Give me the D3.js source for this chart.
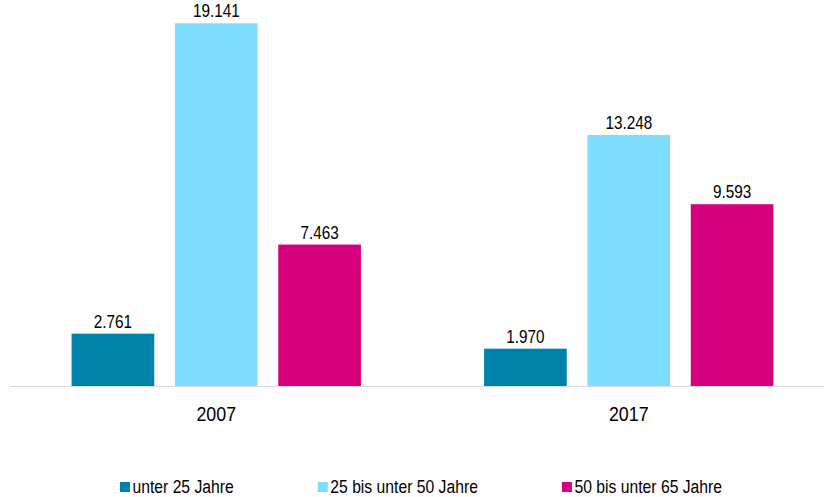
<!DOCTYPE html>
<meta charset="utf-8">
<style>
body { margin: 0; background: #fff; }
text { font-family: "Liberation Sans", Arial, sans-serif; fill: #000; }
</style>
<body>
<script src="https://cdn.jsdelivr.net/npm/d3@7"></script>
<script>

// data
var years = ["2007", "2017"];
var groups = ["unter 25 Jahre", "25 bis unter 50 Jahre", "50 bis unter 65 Jahre"];
var under25 = [2.761, 1.970];
var from25to50 = [19.141, 13.248];
var from50to65 = [7.463, 9.593];
var colors = ["#0083aa", "#7fdeff", "#d6007e"];

var series = [under25, from25to50, from50to65];
var squeeze = 0.85; // narrow-looking font

var width = 824, height = 497;
var base = 386;

var svg = d3.select("body").append("svg")
    .attr("width", width)
    .attr("height", height);

var x0 = d3.scaleBand().domain(years).range([10, 835]);
var x1 = d3.scaleBand().domain(groups).range([-155, 155])
    .paddingInner(0.2).paddingOuter(0.1);
var y = d3.scaleLinear().domain([0, 20]).range([base, 7]);
var z = d3.scaleOrdinal().domain(groups).range(colors);

function label(g, tx, ty, size, txt, anchor) {
  return g.append("text")
      .attr("transform", "translate(" + tx + "," + ty + ") scale(" + squeeze + ",1)")
      .attr("text-anchor", anchor || "middle")
      .style("font-size", size + "px")
      .text(txt);
}

// bars
var data = [];
years.forEach(function(yr, i) {
  groups.forEach(function(k, j) {
    data.push({year: yr, key: k, value: series[j][i]});
  });
});

var bars = svg.append("g");
bars.selectAll("rect")
  .data(data)
  .enter().append("rect")
    .attr("x", function(d) { return x0(d.year) + x0.bandwidth() / 2 + x1(d.key); })
    .attr("y", function(d) { return y(d.value); })
    .attr("width", x1.bandwidth())
    .attr("height", function(d) { return base - y(d.value); })
    .attr("fill", function(d) { return z(d.key); });

// value labels
data.forEach(function(d) {
  var cx = x0(d.year) + x0.bandwidth() / 2 + x1(d.key) + x1.bandwidth() / 2;
  label(svg, cx, y(d.value) - 6, 18, d3.format(".3f")(d.value));
});

// axis line
svg.append("line")
    .attr("x1", 10).attr("x2", width)
    .attr("y1", base + 0.5).attr("y2", base + 0.5)
    .attr("stroke", "#d9d9d9")
    .attr("stroke-width", 1.2);

// category labels
years.forEach(function(yr) {
  label(svg, x0(yr) + x0.bandwidth() / 2, 421, 21, yr);
});

// legend
var leg = svg.append("g");
var items = groups.map(function(k) {
  var g = leg.append("g");
  g.append("rect").attr("width", 10).attr("height", 10).attr("y", 482).attr("fill", z(k));
  var t = label(g, 12.5, 493, 18.5, k, "start");
  return {g: g, w: 12.5 + t.node().getComputedTextLength() * squeeze};
});
var total = d3.sum(items, function(d) { return d.w; }) + 84 * (items.length - 1);
var pos = 421 - total / 2;
items.forEach(function(it) {
  it.g.attr("transform", "translate(" + pos + ",0)");
  pos += it.w + 84;
});

</script>
</body>
